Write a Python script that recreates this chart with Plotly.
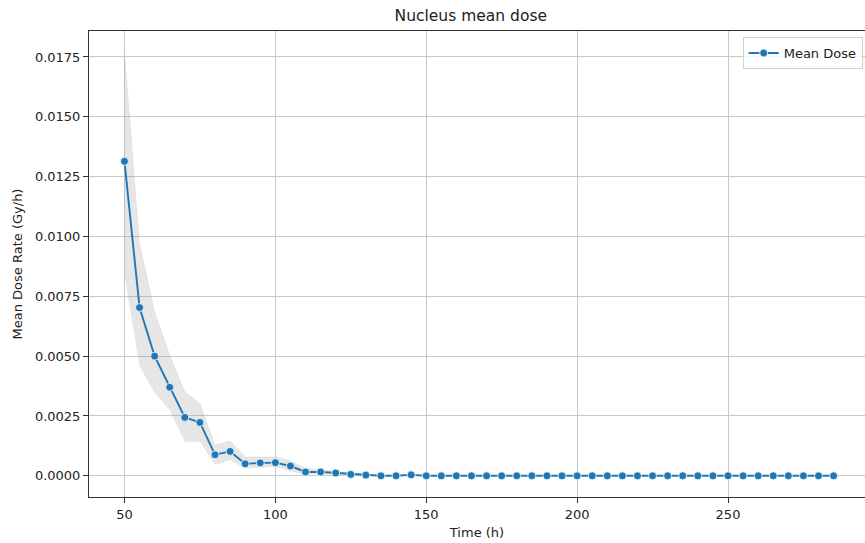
import plotly.graph_objects as go

time_h = list(range(50, 290, 5))
mean_dose = [0.01314, 0.00703, 0.00500, 0.00370, 0.00244, 0.00223, 0.00088, 0.00102,
             0.00050, 0.00054, 0.00055, 0.00041, 0.00016, 0.00016, 0.00012, 0.00006,
             0.00003, 0.0, 0.0, 0.00004] + [0.0] * 28
upper_ci = [0.01771, 0.00970, 0.00685, 0.00504, 0.00351, 0.00302, 0.00128, 0.00146,
            0.00079, 0.00079, 0.00079, 0.00063, 0.00031, 0.00024, 0.00020, 0.00011,
            0.00006, 0.00002, 0.00002, 0.00007] + [0.00001] * 28
lower_ci = [0.00838, 0.00458, 0.00347, 0.00274, 0.00142, 0.00142, 0.00045, 0.00066,
            0.00031, 0.00036, 0.00038, 0.00018, 0.00004, 0.00008, 0.00005, 0.00002,
            0.0, 0.0, 0.0, 0.00001] + [0.0] * 28

x_ticks = [50, 100, 150, 200, 250]

fig = go.Figure()
fig.add_trace(go.Scatter(x=time_h, y=lower_ci, mode="lines", line=dict(width=0),
                         showlegend=False, hoverinfo="skip"))
fig.add_trace(go.Scatter(x=time_h, y=upper_ci, mode="lines", line=dict(width=0.5, color="rgba(150,150,150,0.25)"),
                         fill="tonexty", fillcolor="rgba(128,128,128,0.2)",
                         showlegend=False, hoverinfo="skip"))
fig.add_trace(go.Scatter(x=time_h, y=mean_dose, mode="lines+markers", name="Mean Dose",
                         line=dict(color="#1f77b4", width=1.9),
                         marker=dict(symbol="circle", size=8, color="#1f77b4",
                                     line=dict(color="white", width=0.8))))

axis_common = dict(showline=True, linecolor="#333333", linewidth=1, mirror=True,
                   ticks="outside", ticklen=5, tickcolor="#333333", tickwidth=1,
                   showgrid=True, gridcolor="#c8c8c8", gridwidth=1, zeroline=False,
                   tickfont=dict(family="DejaVu Sans", size=13, color="#222222"))

fig.update_xaxes(range=[38.25, 295.4], tickvals=x_ticks,
                 title=dict(text="Time (h)", font=dict(family="DejaVu Sans", size=13, color="#222222"),
                            standoff=7),
                 **axis_common)
fig.update_yaxes(range=[-0.000885, 0.018585], tick0=0, dtick=0.0025, tickformat=".4f",
                 title=dict(text="Mean Dose Rate (Gy/h)", font=dict(family="DejaVu Sans", size=13, color="#222222"),
                            standoff=9),
                 **axis_common)

fig.update_layout(
    width=865, height=543,
    margin=dict(l=89, r=0, t=31, b=46),
    plot_bgcolor="white", paper_bgcolor="white",
    title=dict(text="Nucleus mean dose", x=0.492, xref="paper", xanchor="center",
               y=0.972, yref="container", yanchor="middle",
               font=dict(family="DejaVu Sans", size=15.5, color="#222222")),
    legend=dict(x=0.997, y=0.987, xanchor="right", yanchor="top",
                bgcolor="rgba(255,255,255,0.85)", bordercolor="#d0d0d0", borderwidth=1,
                font=dict(family="DejaVu Sans", size=13, color="#222222")),
    font=dict(family="DejaVu Sans"),
)

fig.write_html("out.html")
